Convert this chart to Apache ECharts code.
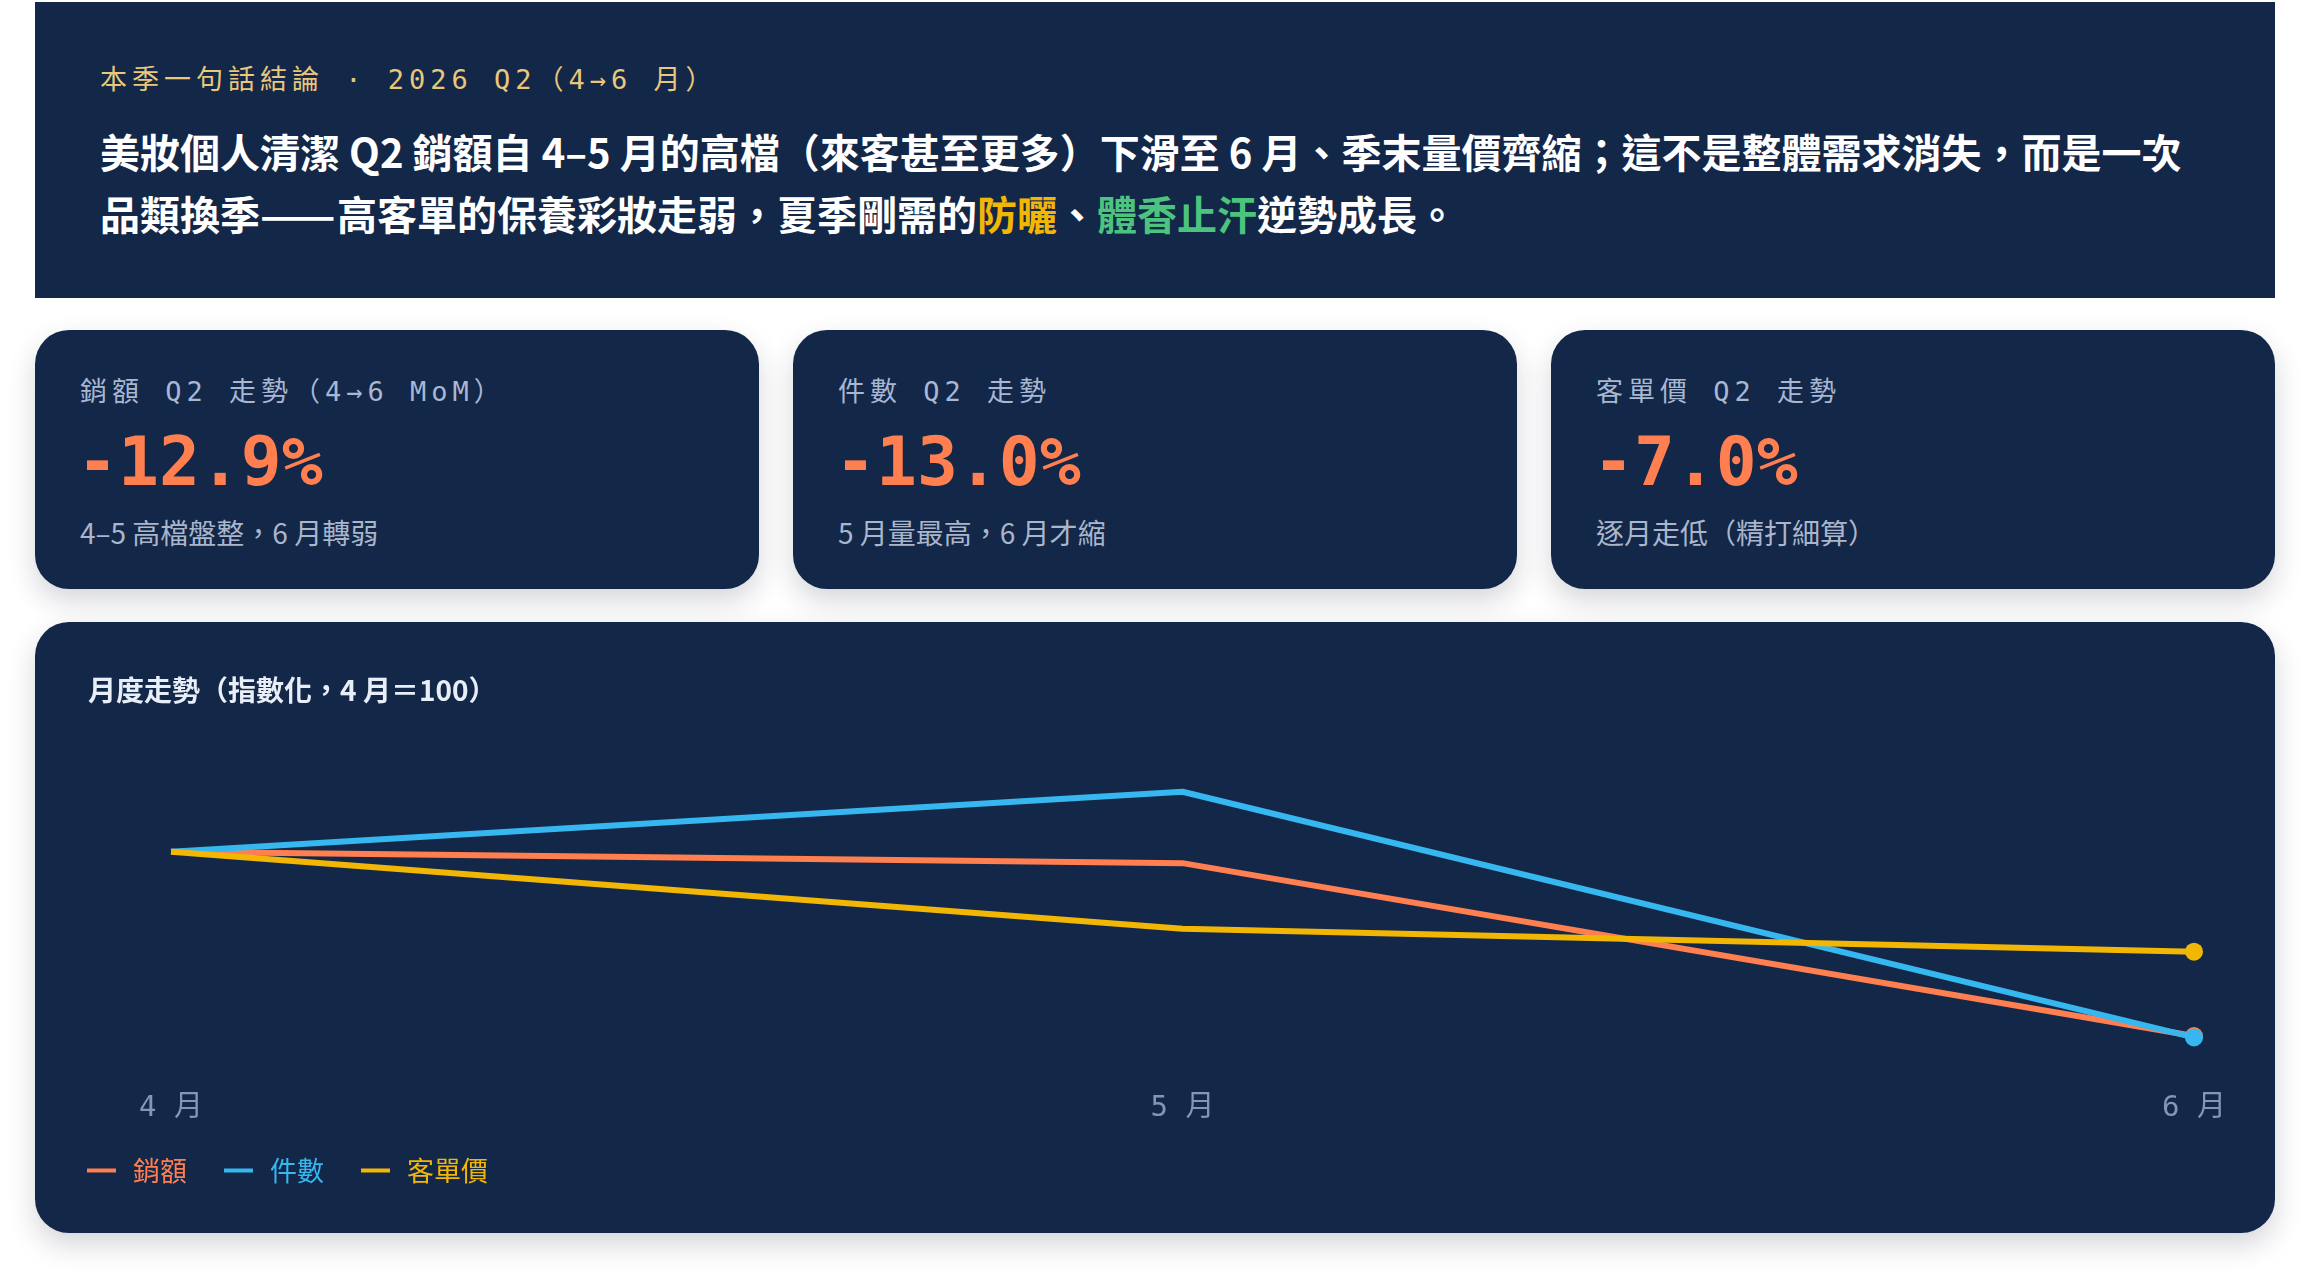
<!DOCTYPE html>
<html>
<head>
<meta charset="utf-8">
<script src="https://cdn.jsdelivr.net/npm/echarts@6/dist/echarts.min.js"></script>
<style>
    html, body { margin: 0; padding: 0; background: #ffffff; }
    body { width: 2310px; height: 1280px; position: relative; overflow: hidden;
           font-family: "Noto Sans CJK TC", "Noto Sans", sans-serif; }
    .panel { position: absolute; background: #132748; }
    .hero { left: 35px; top: 2px; width: 2240px; height: 296px; }
    .mono { font-family: "DejaVu Sans Mono", "Noto Sans CJK TC", monospace; }
    .kicker { position: absolute; left: 65px; top: 60px; font-size: 27px; line-height: 36px;
              letter-spacing: 5px; color: #e9c77b; white-space: nowrap; }
    .headline { position: absolute; left: 65px; top: 118px; font-size: 40px; line-height: 62px;
                font-weight: 700; color: #ffffff; white-space: nowrap; }
    .dash { display: inline-block; transform: scaleX(1.11); transform-origin: left center; margin-right: 9px; }
    .hl-gold { color: #f2b705; }
    .hl-green { color: #4cc47e; }
    .card { top: 330px; width: 724px; height: 259px; border-radius: 34px;
            box-shadow: 0 12px 28px rgba(20, 30, 55, 0.18); }
    .card .label { position: absolute; left: 45px; top: 44px; font-size: 27px; line-height: 36px;
                   letter-spacing: 5px; color: #a8b7d2; white-space: nowrap; }
    .card .big { position: absolute; left: 42px; top: 92px; font-size: 68px; line-height: 80px;
                 font-weight: 700; color: #ff7f50; white-space: nowrap; }
    .card .note { position: absolute; left: 45px; top: 184px; font-size: 28px; line-height: 36px;
                  color: #a9b6cc; white-space: nowrap; }
    .chart-panel { left: 35px; top: 622px; width: 2240px; height: 611px; border-radius: 34px;
                   box-shadow: 0 12px 28px rgba(20, 30, 55, 0.18); }
    #main-chart { position: absolute; left: 0; top: 0; width: 2240px; height: 611px; }
</style>
</head>
<body>

<div class="panel hero">
    <div class="kicker mono">本季一句話結論 · 2026 Q2（4→6 月）</div>
    <div class="headline">
        <div>美妝個人清潔 Q2 銷額自 4–5 月的高檔（來客甚至更多）下滑至 6 月、季末量價齊縮；這不是整體需求消失，而是一次</div>
        <div>品類換季<span class="dash">——</span>高客單的保養彩妝走弱，夏季剛需的<span class="hl-gold">防曬</span>、<span class="hl-green">體香止汗</span>逆勢成長。</div>
    </div>
</div>

<div class="panel card" style="left: 35px;">
    <div class="label mono">銷額 Q2 走勢（4→6 MoM）</div>
    <div class="big mono">-12.9%</div>
    <div class="note">4–5 高檔盤整，6 月轉弱</div>
</div>
<div class="panel card" style="left: 793px;">
    <div class="label mono">件數 Q2 走勢</div>
    <div class="big mono">-13.0%</div>
    <div class="note">5 月量最高，6 月才縮</div>
</div>
<div class="panel card" style="left: 1551px;">
    <div class="label mono">客單價 Q2 走勢</div>
    <div class="big mono">-7.0%</div>
    <div class="note">逐月走低（精打細算）</div>
</div>

<div class="panel chart-panel">
    <div id="main-chart"></div>
</div>

<script>
// ============================================================
// Data (indexed, April = 100)
// ============================================================
const months = ['4 月', '5 月', '6 月'];
const salesIdx = [100, 99.2, 87.1];     // 銷額
const unitsIdx = [100, 104.2, 87.0];    // 件數
const priceIdx = [100, 94.6, 93.0];     // 客單價

const seriesNames = ['銷額', '件數', '客單價'];
const seriesColors = ['#ff7f50', '#36b7ef', '#f2b705'];

// only the last point of each line gets a dot
const withEndDot = (arr) => arr.map((v, i) => (
    i === arr.length - 1 ? { value: v, symbol: 'circle' } : { value: v, symbol: 'none' }
));

const chart = echarts.init(document.getElementById('main-chart'));

const option = {
    animation: false,
    backgroundColor: 'transparent',
    title: {
        text: '月度走勢（指數化，4 月＝100）',
        left: 48,
        top: 49,
        textStyle: {
            color: '#e8eef7',
            fontSize: 28,
            fontWeight: 'bold',
            fontFamily: '"Noto Sans CJK TC", sans-serif'
        }
    },
    legend: {
        left: 47,
        top: 530,
        icon: 'rect',
        itemWidth: 29,
        itemHeight: 4,
        itemGap: 37,
        data: seriesNames.map((name, i) => ({
            name: name,
            textStyle: { color: seriesColors[i] }
        })),
        textStyle: {
            fontSize: 27,
            fontFamily: '"Noto Sans CJK TC", sans-serif',
            padding: [0, 0, 0, 12]
        }
    },
    grid: { left: 136, right: 81, top: 144, height: 300 },
    xAxis: {
        type: 'category',
        boundaryGap: false,
        data: months,
        axisLine: { show: false },
        axisTick: { show: false },
        splitLine: { show: false },
        axisLabel: {
            color: '#8496b4',
            fontSize: 29,
            margin: 28,
            fontFamily: '"DejaVu Sans Mono", "Noto Sans CJK TC", monospace'
        }
    },
    yAxis: {
        type: 'value',
        min: 85,
        max: 106,
        show: false,
        splitLine: { show: false }
    },
    series: [
        { name: seriesNames[0], data: withEndDot(salesIdx) },
        { name: seriesNames[1], data: withEndDot(unitsIdx) },
        { name: seriesNames[2], data: withEndDot(priceIdx) }
    ].map((s, i) => Object.assign(s, {
        type: 'line',
        symbolSize: 18,
        lineStyle: { color: seriesColors[i], width: 6 },
        itemStyle: { color: seriesColors[i] }
    }))
};

chart.setOption(option);
</script>
</body>
</html>
